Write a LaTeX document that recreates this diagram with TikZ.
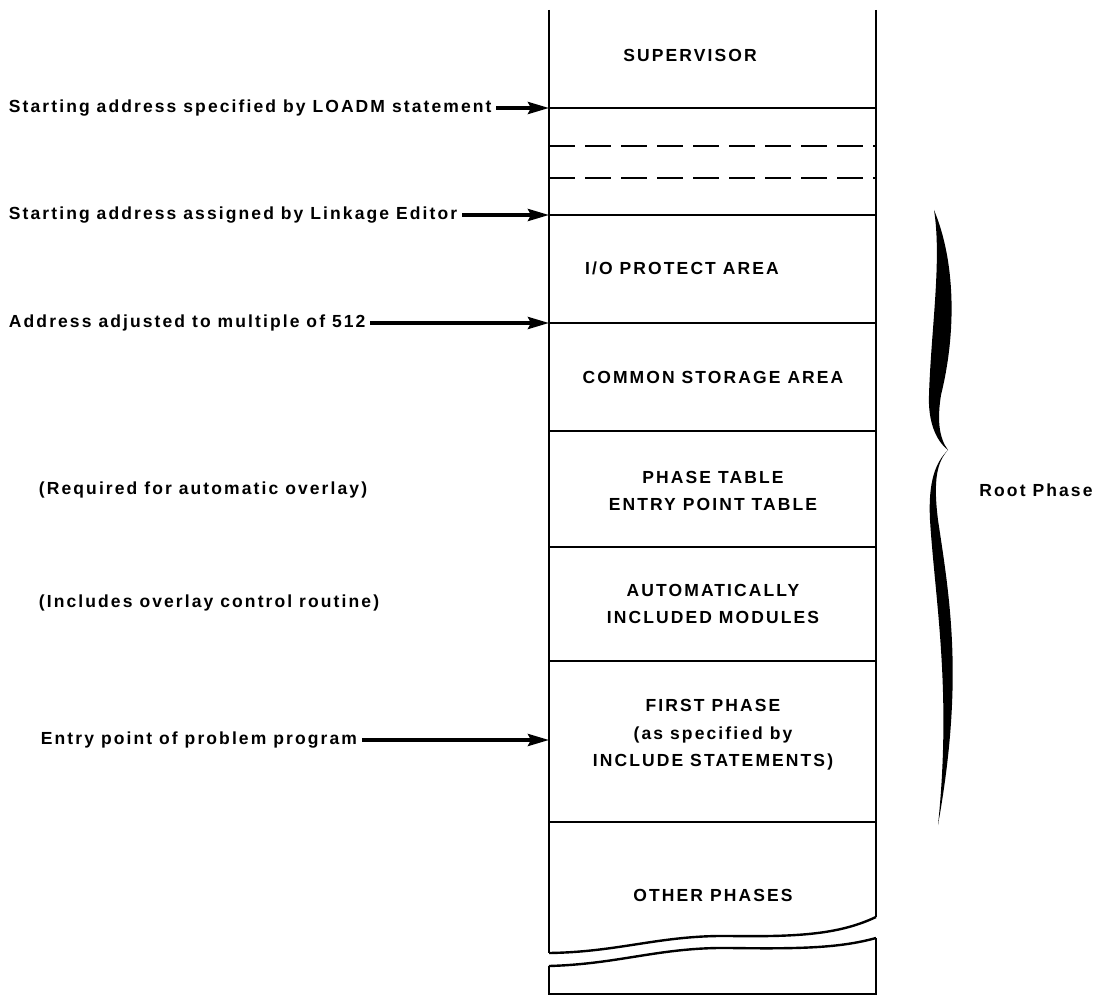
\documentclass[tikz,border=0pt]{standalone}
\usepackage{fontspec}
\setmainfont{Liberation Sans}[LetterSpace=12]
\usetikzlibrary{arrows.meta}

\tikzset{
  txt/.style={inner sep=0.75pt, font=\fontsize{17.5}{27.5}\selectfont\bfseries},
  boxtxt/.style={txt, align=center},
  addrarrow/.style={line width=3.6pt, shorten <=4pt, -{Stealth[length=21pt,width=12pt,inset=3pt]}},
  col/.style={line width=1.8pt},
}

\begin{document}
\begin{tikzpicture}[x=1pt,y=-1pt]
\useasboundingbox (0,0) rectangle (1106,995);
% column
\draw [col] (549,10) -- (549,953) ;
\draw [col] (876,10) -- (876,917) ;
\draw [col] (549,966) -- (549,995) ;
\draw [col] (876,938) -- (876,995) ;
\draw [col] (549,994) -- (876,994) ;
\draw [col] (549,108) -- (876,108) ;
\draw [col, dash pattern=on 26pt off 10pt] (549,146) -- (876,146) ;
\draw [col, dash pattern=on 26pt off 10pt] (549,178) -- (876,178) ;
\draw [col] (549,215) -- (876,215) ;
\draw [col] (549,323) -- (876,323) ;
\draw [col] (549,431) -- (876,431) ;
\draw [col] (549,547) -- (876,547) ;
\draw [col] (549,661) -- (876,661) ;
\draw [col] (549,822) -- (876,822) ;
% break
\draw [col, line width=2.4pt] (549,953) .. controls (620,952) and (660,935) .. (730,936) .. controls (800,937) and (840,934) .. (876,917) ;
\draw [col, line width=2.4pt] (549,966) .. controls (620,964) and (660,947) .. (730,948) .. controls (800,949) and (840,948) .. (876,938) ;
% brace
\fill (934,210) .. controls (955,260) and (957,330) .. (941,395) .. controls (937,420) and (939,438) .. (948,450)
  .. controls (935,440) and (928,420) .. (929,395) .. controls (931,330) and (942,260) .. (934,210) -- cycle;
\fill (948,450) .. controls (937,462) and (933,480) .. (938,520) .. controls (950,600) and (964,680) .. (938,825)
  .. controls (952,690) and (935,600) .. (930,520) .. controls (928,480) and (936,462) .. (948,450) -- cycle;
%Text
\node [txt] (sup) at (690,55) {SUPERVISOR};
\node [txt] (iop) at (682,268) {I/O PROTECT AREA};
\node [txt] (com) at (713,377) {COMMON STORAGE AREA};
\node [boxtxt] (tab) at (713,491) {PHASE TABLE\\ENTRY POINT TABLE};
\node [boxtxt] (aut) at (713,604) {AUTOMATICALLY\\INCLUDED MODULES};
\node [boxtxt] (fst) at (713,735) {FIRST PHASE\\(as specified by\\INCLUDE STATEMENTS)};
\node [txt] (oth) at (713,895) {OTHER PHASES};
\node [txt] (root) at (1036,490) {Root Phase};
\node [txt, anchor=west] (req) at (38,490) {(Required for automatic overlay)};
\node [txt, anchor=west] (inc) at (38,603) {(Includes overlay control routine)};
\node [txt, anchor=west] (loadm) at (8,108) {Starting address specified by LOADM statement};
\node [txt, anchor=west] (link) at (8,215) {Starting address assigned by Linkage Editor};
\node [txt, anchor=west] (adj) at (8,323) {Address adjusted to multiple of 512};
\node [txt, anchor=west] (entry) at (40,740) {Entry point of problem program};
\coordinate (c1) at (549,108);
\coordinate (c2) at (549,215);
\coordinate (c3) at (549,323);
\coordinate (c4) at (549,740);
\draw [addrarrow] (loadm.east) -- (c1) ;
\draw [addrarrow] (link.east) -- (c2) ;
\draw [addrarrow] (adj.east) -- (c3) ;
\draw [addrarrow] (entry.east) -- (c4) ;
\end{tikzpicture}
\end{document}
